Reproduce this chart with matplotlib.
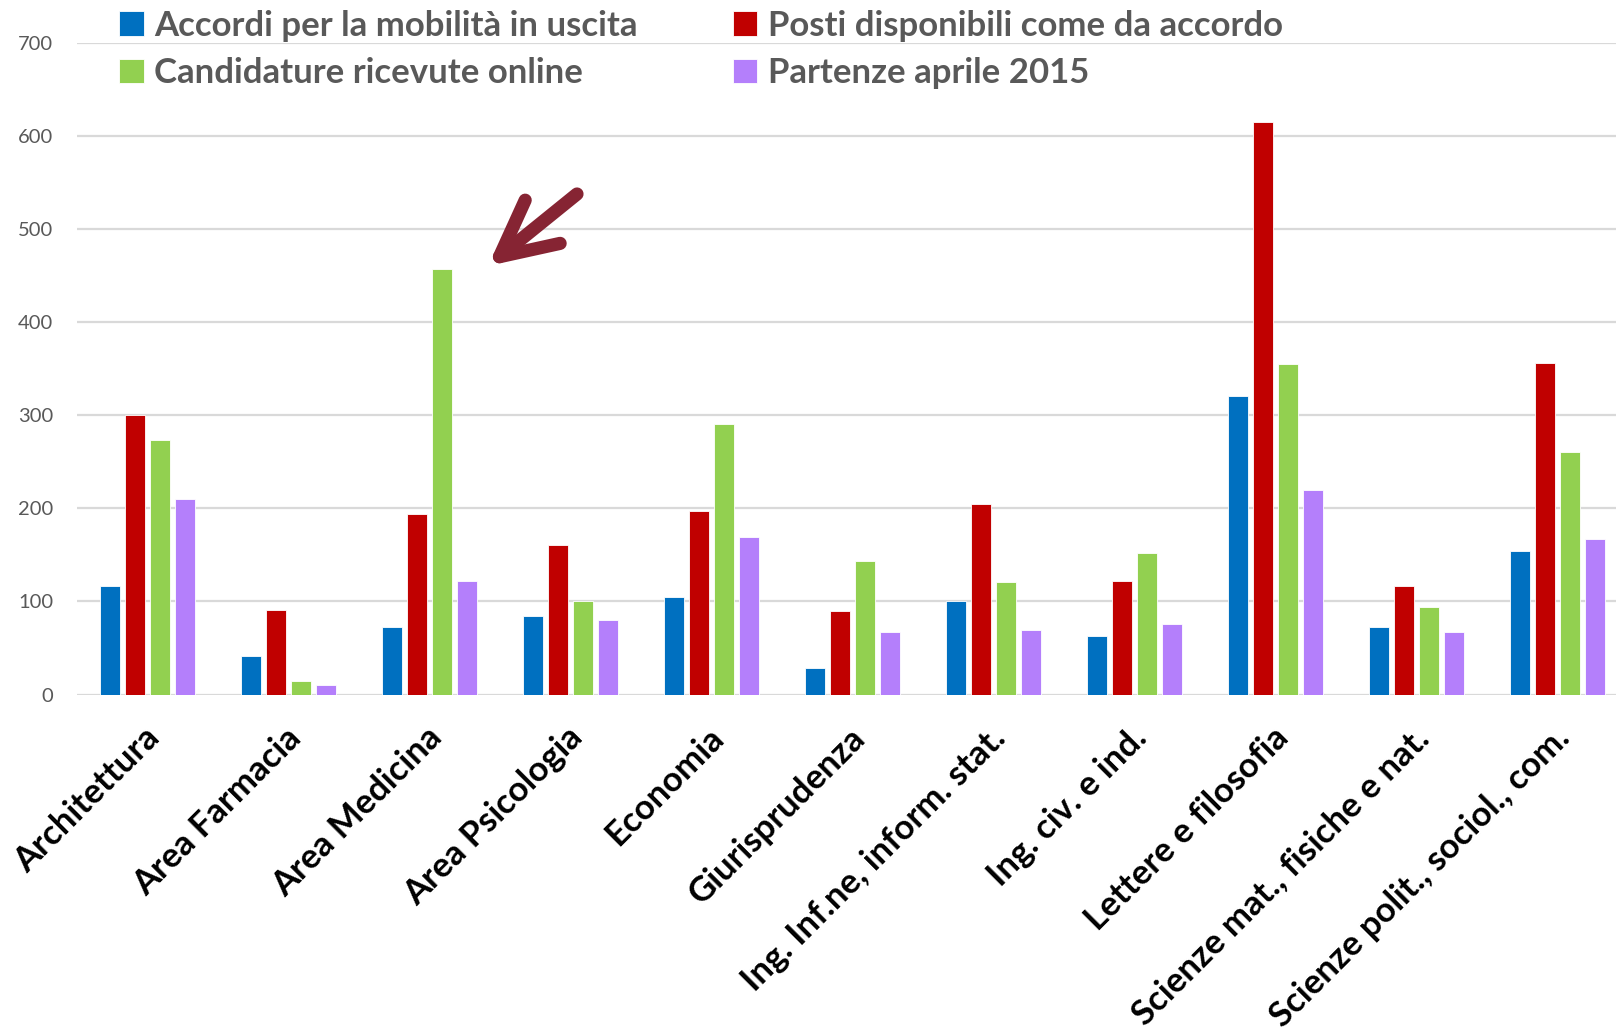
import numpy as np
import matplotlib
matplotlib.use("Agg")
import matplotlib.pyplot as plt
import matplotlib.transforms as mtransforms
from matplotlib.patches import ArrowStyle

plt.rcParams['font.family'] = ['Lato', 'DejaVu Sans']

categories = ["Architettura", "Area Farmacia", "Area Medicina", "Area Psicologia",
              "Economia", "Giurisprudenza", "Ing. Inf.ne, inform. stat.",
              "Ing. civ. e ind.", "Lettere e filosofia",
              "Scienze mat., fisiche e nat.", "Scienze polit., sociol., com."]

accordi = [117, 41, 73, 84, 105, 28, 100, 63, 321, 73, 154]
posti = [300, 91, 194, 160, 197, 90, 205, 122, 615, 116, 356]
candidature = [273, 15, 457, 100, 290, 143, 121, 152, 355, 94, 260]
partenze = [210, 10, 122, 80, 169, 67, 69, 76, 220, 67, 167]

series = [
    ("Accordi per la mobilità in uscita", accordi, "#0070C0"),
    ("Posti disponibili come da accordo", posti, "#C00000"),
    ("Candidature ricevute online", candidature, "#92D050"),
    ("Partenze aprile 2015", partenze, "#B47FFB"),
]

fig = plt.figure(figsize=(16.16, 10.35), dpi=100)
# plot area runs past the right edge of the picture, like the original
ax = fig.add_axes([77 / 1616, 1 - 694.5 / 1035, 1551 / 1616, 652 / 1035])

x = np.arange(len(categories))
step = 0.177
width = 0.142
handles = []
for i, (name, vals, col) in enumerate(series):
    b = ax.bar(x + (i - 1.5) * step, vals, width, color=col, label=name,
               edgecolor="white", linewidth=0.6, zorder=3)
    handles.append(b)

ax.set_xlim(-0.5, len(categories) - 0.5)
ax.set_ylim(0, 700)
ax.set_yticks(range(0, 701, 100))
ax.grid(axis="y", color="#D9D9D9", linewidth=1.6, zorder=0)
for s in ax.spines.values():
    s.set_visible(False)
ax.tick_params(axis="y", length=0, pad=17, labelsize=14.5, labelcolor="#595959")
ax.tick_params(axis="x", length=0)

ax.set_xticks(x)
ax.set_xticklabels(categories, rotation=45, ha="right", va="top",
                   rotation_mode="anchor", fontsize=25, fontweight="bold")
off = mtransforms.ScaledTranslation(-4 / 100, -22 / 100, fig.dpi_scale_trans)
for lab in ax.get_xticklabels():
    lab.set_transform(lab.get_transform() + off)

# legend is filled column by column, so order handles for row-wise reading
order = [0, 2, 1, 3]
leg = fig.legend(handles=[handles[i] for i in order], ncol=2, loc="upper left",
                 bbox_to_anchor=(88 / 1616, 1.021), frameon=False,
                 fontsize=25, handlelength=0.7, handleheight=0.7,
                 handletextpad=0.3, columnspacing=2.75, labelspacing=0.45)
for t in leg.get_texts():
    t.set_color("#595959")
    t.set_fontweight("bold")

# arrow pointing at the Area Medicina peak
ax.annotate("", xy=(488 / 1616, 1 - 266 / 1035), xycoords="figure fraction",
            xytext=(577 / 1616, 1 - 194 / 1035), textcoords="figure fraction",
            arrowprops=dict(arrowstyle=ArrowStyle("->", head_length=4.0, head_width=2.0),
                            mutation_scale=10, color="#862433", lw=9.5,
                            capstyle="round", joinstyle="round",
                            shrinkA=0, shrinkB=0))

fig.savefig("out.png", dpi=100)
